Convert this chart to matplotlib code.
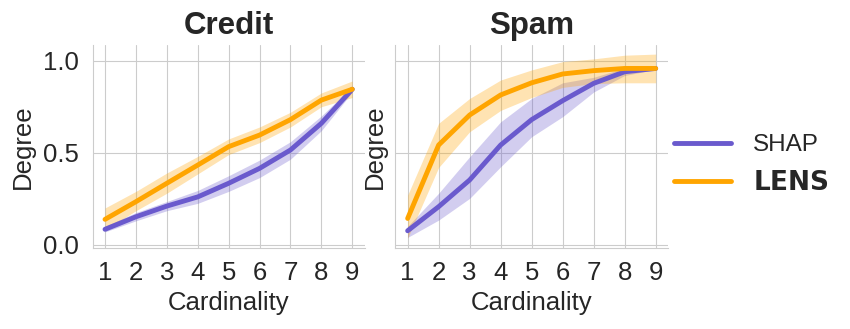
import numpy as np
import matplotlib
matplotlib.use("Agg")
import matplotlib.pyplot as plt
import seaborn as sns

cardinality = [1, 2, 3, 4, 5, 6, 7, 8, 9]

# Credit
credit_shap = [0.084, 0.152, 0.21, 0.26, 0.334, 0.415, 0.515, 0.66, 0.845]
credit_shap_lo = [0.07, 0.13, 0.185, 0.225, 0.29, 0.365, 0.465, 0.62, 0.83]
credit_shap_hi = [0.10, 0.175, 0.235, 0.295, 0.375, 0.46, 0.56, 0.70, 0.86]
credit_lens = [0.138, 0.234, 0.334, 0.433, 0.533, 0.596, 0.68, 0.786, 0.845]
credit_lens_lo = [0.08, 0.185, 0.28, 0.385, 0.49, 0.555, 0.64, 0.75, 0.80]
credit_lens_hi = [0.20, 0.29, 0.39, 0.48, 0.575, 0.64, 0.72, 0.825, 0.89]

# Spam
spam_shap = [0.076, 0.207, 0.352, 0.542, 0.68, 0.783, 0.877, 0.94, 0.958]
spam_shap_lo = [0.04, 0.134, 0.252, 0.424, 0.587, 0.696, 0.83, 0.92, 0.953]
spam_shap_hi = [0.10, 0.28, 0.478, 0.668, 0.795, 0.88, 0.91, 0.96, 0.963]
spam_lens = [0.143, 0.542, 0.705, 0.814, 0.88, 0.928, 0.946, 0.958, 0.958]
spam_lens_lo = [0.036, 0.42, 0.614, 0.73, 0.80, 0.855, 0.876, 0.88, 0.88]
spam_lens_hi = [0.27, 0.66, 0.795, 0.895, 0.95, 0.995, 1.01, 1.03, 1.036]

panels = [
    ("Credit", credit_shap, credit_shap_lo, credit_shap_hi,
     credit_lens, credit_lens_lo, credit_lens_hi),
    ("Spam", spam_shap, spam_shap_lo, spam_shap_hi,
     spam_lens, spam_lens_lo, spam_lens_hi),
]

shap_color = "#6a5acd"
lens_color = "#ffa500"

sns.set_style("whitegrid")
plt.rcParams["font.family"] = ["Liberation Sans", "DejaVu Sans"]
plt.rcParams["mathtext.fontset"] = "dejavusans"

fig = plt.figure(figsize=(8.5, 3.29), dpi=100)
ax1 = fig.add_axes([0.109, 0.246, 0.320, 0.617])
ax2 = fig.add_axes([0.465, 0.246, 0.321, 0.617], sharey=ax1)

for ax, (title, s, s_lo, s_hi, l, l_lo, l_hi) in zip([ax1, ax2], panels):
    ax.fill_between(cardinality, s_lo, s_hi, color=shap_color, alpha=0.3, lw=0)
    ax.fill_between(cardinality, l_lo, l_hi, color=lens_color, alpha=0.3, lw=0)
    ax.plot(cardinality, s, color=shap_color, lw=3.5, label="SHAP")
    ax.plot(cardinality, l, color=lens_color, lw=3.5, label=r"$\bf{LENS}$")
    ax.set_title(title, fontsize=22.5, fontweight="bold", color="#262626", pad=8)
    ax.set_xlabel("Cardinality", fontsize=18.5, color="#262626", labelpad=4)
    ax.set_ylabel("Degree", fontsize=18.5, color="#262626", labelpad=6)
    ax.set_xticks(cardinality)
    ax.set_xlim(0.6, 9.4)
    ax.tick_params(labelsize=18.5, colors="#262626")
    ax.tick_params(axis="x", pad=6)
    ax.tick_params(axis="y", pad=6.5)
    for side in ["top", "right"]:
        ax.spines[side].set_visible(False)
    for side in ["left", "bottom"]:
        ax.spines[side].set_color("#cccccc")

ax1.set_ylim(-0.018, 1.085)
ax1.set_yticks([0.0, 0.5, 1.0])
ax2.tick_params(axis="y", labelleft=False)

handles, labels = ax1.get_legend_handles_labels()
leg = fig.legend(handles, labels, loc="center left", bbox_to_anchor=(0.767, 0.5),
                 frameon=False, fontsize=17.5, handlelength=2.35,
                 handletextpad=0.9, labelspacing=0.6)
leg.get_texts()[1].set_fontsize(19)

fig.savefig("out.png", dpi=100)
